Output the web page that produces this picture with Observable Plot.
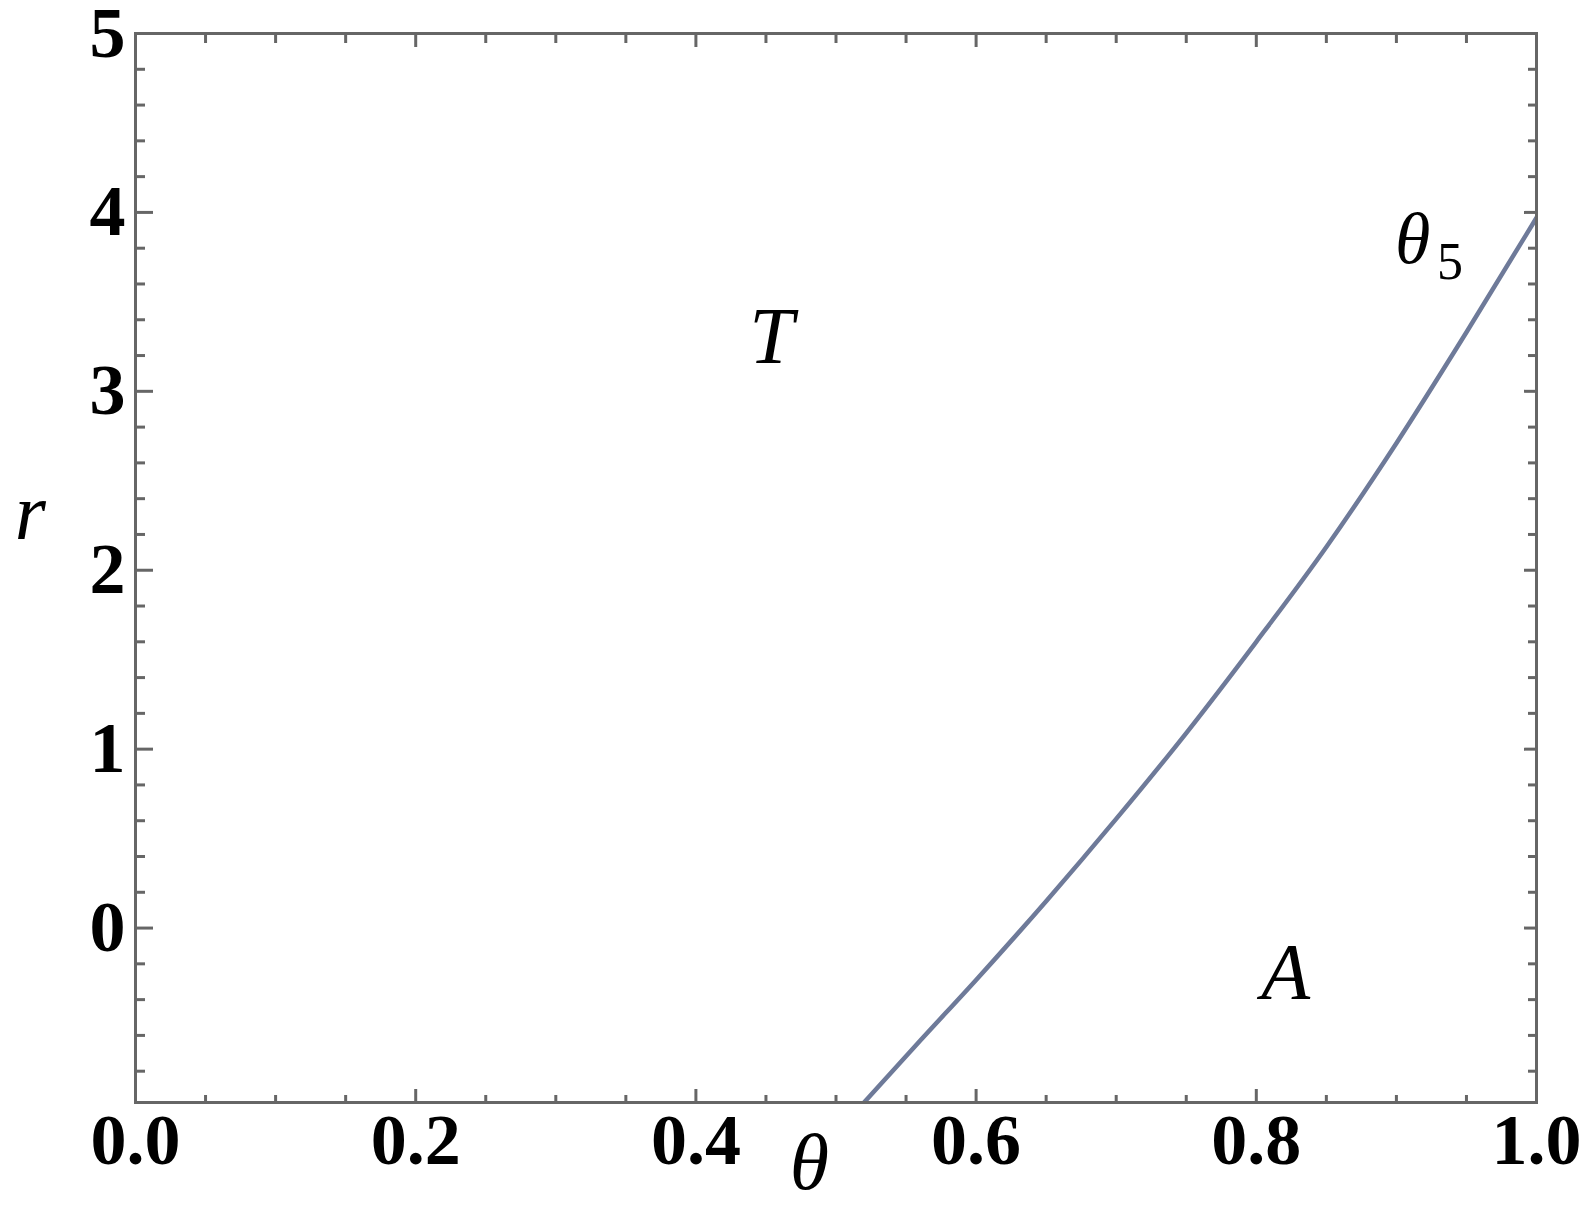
<!DOCTYPE html>
<html>
<head>
<meta charset="utf-8">
<script src="https://cdn.jsdelivr.net/npm/d3@7"></script>
<script src="https://cdn.jsdelivr.net/npm/@observablehq/plot@0.6"></script>
<style>
  html, body { margin: 0; padding: 0; background: #fff; }
</style>
</head>
<body>
<div id="chart"></div>
<script>
// Curve θ5 (boundary between T and A phases)
const theta = [0.52, 0.56, 0.60, 0.65, 0.70, 0.75, 0.80, 0.85, 0.90, 0.95, 1.00];
const rVals = [-0.975, -0.63, -0.29, 0.15, 0.61, 1.09, 1.60, 2.13, 2.71, 3.33, 3.97];

const xMajorTicks = [0, 0.2, 0.4, 0.6, 0.8, 1.0];
const yMajorTicks = [0, 1, 2, 3, 4, 5];
const xMinorTicks = d3.range(0, 1.0001, 0.05).map(v => +v.toFixed(2)).filter(v => !xMajorTicks.some(t => Math.abs(t - v) < 1e-9));
const yMinorTicks = d3.range(-0.8, 4.9, 0.2).map(v => +v.toFixed(1)).filter(v => !yMajorTicks.some(t => Math.abs(t - v) < 1e-9));

// Italic labels (region names, axis names, curve name)
const italicLabels = [
  {label: "T", x: 0.454, y: 3.16, size: 80, anchor: "middle"},
  {label: "A", x: 0.821, y: -0.395, size: 80, anchor: "middle"},
  {label: "r", x: -0.075, y: 2.176, size: 80, anchor: "middle"},
  {label: "θ", x: 0.481, y: -1.46, size: 80, anchor: "middle"},
  {label: "θ", x: 0.899, y: 3.72, size: 72, anchor: "start"}
];
// Upright subscript
const uprightLabels = [
  {label: "5", x: 0.929, y: 3.63, size: 52, anchor: "start"}
];

const data = theta.map((t, i) => ({theta: t, r: rVals[i]}));

const W = 1580, H = 1205;
const mL = 135, mT = 33, mR = 44, mB = 103;
const fw = W - mL - mR, fh = H - mT - mB;
const axisColor = "#666666";

function ticksX(values, len, side) {
  return Plot.tickX(values, side === "bottom"
    ? {x: d => d, insetTop: fh - len, stroke: axisColor, strokeWidth: 3}
    : {x: d => d, insetBottom: fh - len, stroke: axisColor, strokeWidth: 3});
}
function ticksY(values, len, side) {
  return Plot.tickY(values, side === "left"
    ? {y: d => d, insetRight: fw - len, stroke: axisColor, strokeWidth: 3}
    : {y: d => d, insetLeft: fw - len, stroke: axisColor, strokeWidth: 3});
}
function labels(arr, fontStyle) {
  return Plot.text(arr, {
    x: "x", y: "y", text: "label",
    fontSize: d => d.size,
    textAnchor: "start",
    fontStyle,
    lineAnchor: "bottom",
    fill: "#000"
  });
}

const chart = Plot.plot({
  width: W,
  height: H,
  marginLeft: mL,
  marginTop: mT,
  marginRight: mR,
  marginBottom: mB,
  style: {fontFamily: "'Liberation Serif', 'Times New Roman', serif", background: "#fff", overflow: "visible", color: "#000"},
  x: {domain: [0, 1]},
  y: {domain: [-0.975, 5]},
  marks: [
    Plot.line(data, {x: "theta", y: "r", curve: "monotone-x", stroke: "#6e7a99", strokeWidth: 4.5, clip: true}),
    ticksX(xMajorTicks, 13, "bottom"),
    ticksX(xMinorTicks, 7, "bottom"),
    ticksX(xMajorTicks, 14, "top"),
    ticksX(xMinorTicks, 10, "top"),
    ticksY(yMajorTicks, 18, "left"),
    ticksY(yMinorTicks, 10, "left"),
    ticksY(yMajorTicks, 12, "right"),
    ticksY(yMinorTicks, 8, "right"),
    Plot.frame({stroke: axisColor, strokeWidth: 3}),
    Plot.axisX(xMajorTicks, {anchor: "bottom", tickSize: 0, tickPadding: 10, tickFormat: d3.format(".1f"), fontSize: 72, fontWeight: "bold", label: null, fill: "#000"}),
    Plot.axisY(yMajorTicks, {anchor: "left", tickSize: 0, tickPadding: 10, tickFormat: d3.format("d"), fontSize: 72, fontWeight: "bold", label: null, fill: "#000"}),
    Plot.text(italicLabels.filter(d => d.anchor === "middle"), {
      x: "x", y: "y", text: "label", fontSize: 80, textAnchor: "middle",
      fontStyle: "italic", lineAnchor: "bottom", fill: "#000"
    }),
    Plot.text(italicLabels.filter(d => d.anchor === "start"), {
      x: "x", y: "y", text: "label", fontSize: 72, textAnchor: "start",
      fontStyle: "italic", lineAnchor: "bottom", fill: "#000"
    }),
    Plot.text(uprightLabels, {
      x: "x", y: "y", text: "label", fontSize: 52, textAnchor: "start",
      lineAnchor: "bottom", fill: "#000"
    })
  ]
});

document.getElementById("chart").appendChild(chart);
</script>
</body>
</html>
